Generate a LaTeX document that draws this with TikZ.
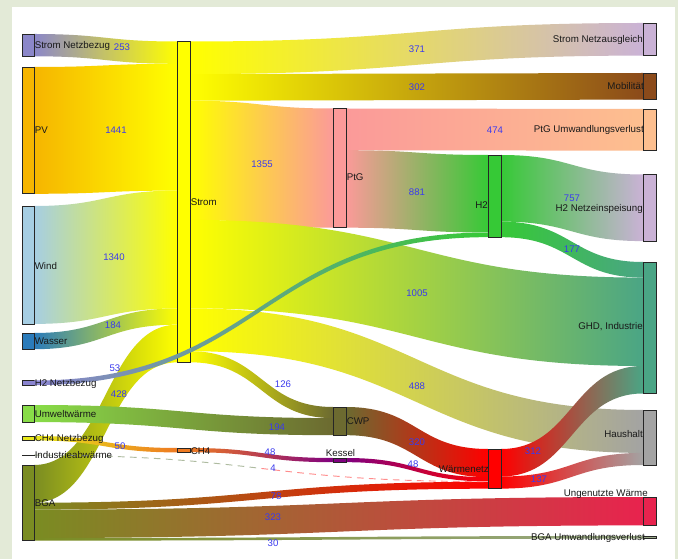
\documentclass[tikz,border=0pt]{standalone}
\usepackage{fontspec}
\setmainfont{Liberation Sans}
\usetikzlibrary{calc}
\definecolor{bgC}{HTML}{E3EAD7}
\definecolor{snbC}{HTML}{8B87C9}
\definecolor{pvC}{HTML}{F6B500}
\definecolor{windC}{HTML}{A6CEE3}
\definecolor{wasserC}{HTML}{2B7BBA}
\definecolor{h2nbC}{HTML}{8A84D0}
\definecolor{umwC}{HTML}{88DC48}
\definecolor{ch4nbC}{HTML}{E8E81A}
\definecolor{indabC}{HTML}{000000}
\definecolor{bgaC}{HTML}{7A8C22}
\definecolor{stromC}{HTML}{FFFF00}
\definecolor{ch4C}{HTML}{EE7A22}
\definecolor{ptgC}{HTML}{FB9A99}
\definecolor{cwpC}{HTML}{6C6A30}
\definecolor{kesselC}{HTML}{800080}
\definecolor{h2C}{HTML}{36C936}
\definecolor{wnC}{HTML}{FF0000}
\definecolor{snaC}{HTML}{CAB2D6}
\definecolor{mobC}{HTML}{8B4A1A}
\definecolor{ptgvC}{HTML}{FDBF8F}
\definecolor{h2neC}{HTML}{CAB2D6}
\definecolor{ghdC}{HTML}{4AA585}
\definecolor{hhC}{HTML}{A3A3A3}
\definecolor{ungC}{HTML}{E8234E}
\definecolor{bgavC}{HTML}{9AAA88}
\definecolor{valC}{HTML}{3A3AEE}
\definecolor{wnghdM}{HTML}{CC6A62}
\definecolor{wnhhM}{HTML}{E25A5A}
% flow: src, dst, offset at src, offset at dst, thickness, colour src, colour dst
\newcommand\flw[7]{%
  \shade[left color=#6,right color=#7] let \p1=($(#1.north east)+(0,#3)$),
    \p2=($(#2.north west)+(0,#4)$), \p3=($(\p1)+(0,#5)$), \p4=($(\p2)+(0,#5)$),
    \n1={0.5*(\x1+\x2)} in
    (\p1) .. controls (\n1,\y1) and (\n1,\y2) .. (\p2) -- (\p4)
    .. controls (\n1,\y4) and (\n1,\y3) .. (\p3) -- cycle;}
% same with a middle colour
\newcommand\flwm[8]{%
  \shade[left color=#6,middle color=#8,right color=#7] let \p1=($(#1.north east)+(0,#3)$),
    \p2=($(#2.north west)+(0,#4)$), \p3=($(\p1)+(0,#5)$), \p4=($(\p2)+(0,#5)$),
    \n1={0.5*(\x1+\x2)} in
    (\p1) .. controls (\n1,\y1) and (\n1,\y2) .. (\p2) -- (\p4)
    .. controls (\n1,\y4) and (\n1,\y3) .. (\p3) -- cycle;}
\begin{document}
\begin{tikzpicture}[x=0.75pt,y=-0.75pt,
  box/.style={draw=black!85, line width=0.55pt, inner sep=0pt, outer sep=0pt, anchor=north west, minimum width=9.75pt},
  lbl/.style={font=\fontsize{7.3}{8}\selectfont, inner sep=0pt, text=black!90},
  val/.style={font=\fontsize{7.2}{8}\selectfont, inner sep=0pt, text=valC}]
\useasboundingbox (0,0) rectangle (678,559);
\fill[bgC] (0,0) rectangle (678,559);
\fill[white] (12,7) rectangle (675,559);
% node boxes (placement first for names)
\path
 node[box, draw=none, minimum width=9pt, minimum height=16.72pt] (snb) at (22,34) {}
 node[box, draw=none, minimum width=9pt, minimum height=95.1pt] (pv) at (22,67) {}
 node[box, draw=none, minimum width=9pt, minimum height=88.43pt] (wind) at (22,206) {}
 node[box, draw=none, minimum width=9pt, minimum height=12.15pt] (wasser) at (22,333) {}
 node[box, draw=none, minimum width=9pt, minimum height=3.5pt] (h2nb) at (22,380.5) {}
 node[box, draw=none, minimum width=9pt, minimum height=12.8pt] (umw) at (22,405) {}
 node[box, draw=none, minimum width=9pt, minimum height=3.3pt] (ch4nb) at (22,436) {}
 node[box, draw=none, minimum width=9pt, minimum height=0.26pt] (indab) at (22,455) {}
 node[box, draw=none, minimum width=9pt, minimum height=56.7pt] (bga) at (22,465) {}
 node[box, draw=none, minimum height=240.6pt] (strom) at (177,41.5) {}
 node[box, draw=none, minimum height=3.3pt] (ch4) at (177,448) {}
 node[box, draw=none, minimum height=89.4pt] (ptg) at (333,108.5) {}
 node[box, draw=none, minimum height=21.15pt] (cwp) at (333,407) {}
 node[box, draw=none, minimum height=3.15pt] (kessel) at (333,458) {}
 node[box, draw=none, minimum height=61.65pt] (h2) at (488,155) {}
 node[box, draw=none, minimum height=29.7pt] (wn) at (488,449) {}
 node[box, draw=none, minimum height=24.45pt] (sna) at (643,23) {}
 node[box, draw=none, minimum height=19.95pt] (mob) at (643,73) {}
 node[box, draw=none, minimum height=31.3pt] (ptgv) at (643,109) {}
 node[box, draw=none, minimum height=49.95pt] (h2ne) at (643,174.5) {}
 node[box, draw=none, minimum height=98.6pt] (ghd) at (643,262) {}
 node[box, draw=none, minimum height=41.25pt] (hh) at (643,410) {}
 node[box, draw=none, minimum height=21.3pt] (ung) at (643,497) {}
 node[box, draw=none, minimum height=1.98pt] (bgav) at (643,536) {};
% flows
\flw{bga}{strom}{0}{283.2}{37.7}{bgaC}{stromC}
\flw{snb}{strom}{0}{0}{22.3}{snbC}{stromC}
\flw{pv}{strom}{0}{22.3}{126.8}{pvC}{stromC}
\flw{wind}{strom}{0}{149.1}{117.9}{windC}{stromC}
\flw{wasser}{strom}{0}{267.0}{16.2}{wasserC}{stromC}
\flw{strom}{sna}{0}{0}{32.6}{stromC}{snaC}
\flw{strom}{mob}{32.6}{0}{26.6}{stromC}{mobC}
\flw{strom}{ptg}{59.2}{0}{119.2}{stromC}{ptgC}
\flw{strom}{ghd}{178.4}{15.6}{88.4}{stromC}{ghdC}
\flw{strom}{hh}{266.8}{0}{42.9}{stromC}{hhC}
\flw{strom}{cwp}{309.7}{0}{11.1}{stromC}{cwpC}
\flw{ptg}{ptgv}{0}{0}{41.7}{ptgC}{ptgvC}
\flw{ptg}{h2}{41.7}{0}{77.5}{ptgC}{h2C}
\flw{h2}{h2ne}{0}{0}{66.6}{h2C}{h2neC}
\flw{h2}{ghd}{66.6}{0}{15.6}{h2C}{ghdC}
\flw{umw}{cwp}{0}{11.1}{17.1}{umwC}{cwpC}
\flw{ch4nb}{ch4}{0}{0}{4.4}{ch4nbC}{ch4C}
\flw{ch4}{kessel}{0}{0}{4.2}{ch4C}{kesselC}
\flw{bga}{ung}{44.6}{0}{28.4}{bgaC}{ungC}
\flw{bga}{bgav}{73.0}{0}{2.64}{bgaC}{bgavC}
\flw{bga}{wn}{37.7}{32.8}{6.9}{bgaC}{wnC}
\flw{cwp}{wn}{0}{0}{28.2}{cwpC}{wnC}
\flw{kessel}{wn}{0}{28.2}{4.2}{kesselC}{wnC}
\flwm{wn}{ghd}{0}{104.0}{27.5}{wnC}{ghdC}{wnghdM}
\flwm{wn}{hh}{27.5}{42.9}{12.1}{wnC}{hhC}{wnhhM}
% dashed Industrieabwaerme -> Waermenetz
\coordinate (indEnd) at ($(wn.north west)+(0,32.6)$);
\begin{scope}
\clip (0,0) rectangle (261,559);
\draw[bgavC!80, line width=0.7pt, dash pattern=on 5pt off 4pt] (indab.east) .. controls (261,455.2) and (261,481.6) .. (indEnd);
\end{scope}
\begin{scope}
\clip (261,0) rectangle (678,559);
\draw[wnC!45, line width=0.7pt, dash pattern=on 5pt off 4pt] (indab.east) .. controls (261,455.2) and (261,481.6) .. (indEnd);
\end{scope}
% visible boxes
\foreach \n/\c in {snb/snbC,pv/pvC,wind/windC,wasser/wasserC,h2nb/h2nbC,umw/umwC,ch4nb/ch4nbC,indab/indabC,bga/bgaC,strom/stromC,ch4/ch4C,ptg/ptgC,cwp/cwpC,kessel/kesselC,h2/h2C,wn/wnC,sna/snaC,mob/mobC,ptgv/ptgvC,h2ne/h2neC,ghd/ghdC,hh/hhC,ung/ungC,bgav/bgavC}
  \draw[fill=\c, draw=black!85, line width=0.55pt] (\n.north west) rectangle (\n.south east);
% H2 Netzbezug flow on top
\flw{h2nb}{h2}{0}{77.5}{4.66}{h2nbC}{h2C}
% node labels
\node[lbl, anchor=west] (tsnb) at (34.5,46) {Strom Netzbezug};
\node[lbl, anchor=west] (tpv) at (34.5,130) {PV};
\node[lbl, anchor=west] (twind) at (34.5,266) {Wind};
\node[lbl, anchor=west] (twasser) at (34.5,341.5) {Wasser};
\node[lbl, anchor=west] (th2nb) at (34.5,383.5) {H2 Netzbezug};
\node[lbl, anchor=west] (tumw) at (34.5,414) {Umweltwärme};
\node[lbl, anchor=west] (tch4nb) at (34.5,438.5) {CH4 Netzbezug};
\node[lbl, anchor=west] (tindab) at (34.5,455) {Industrieabwärme};
\node[lbl, anchor=west] (tbga) at (34.5,503) {BGA};
\node[lbl, anchor=west] (tstrom) at (190.5,202) {Strom};
\node[lbl, anchor=west] (tch4) at (190.5,451) {CH4};
\node[lbl, anchor=west] (tptg) at (346.5,177) {PtG};
\node[lbl, anchor=west] (tcwp) at (346.5,421) {CWP};
\node[lbl] (tkessel) at (340.5,453) {Kessel};
\node[lbl, anchor=east] (th2) at (488,205) {H2};
\node[lbl, anchor=east] (twn) at (489,469) {Wärmenetz};
\node[lbl, anchor=east] (tsna) at (643,40) {Strom Netzausgleich};
\node[lbl, anchor=east] (tmob) at (644,86) {Mobilität};
\node[lbl, anchor=east] (tptgv) at (644,130) {PtG Umwandlungsverlust};
\node[lbl, anchor=east] (th2ne) at (643,208.5) {H2 Netzeinspeisung};
\node[lbl, anchor=east] (tghd) at (643,327) {GHD, Industrie};
\node[lbl, anchor=east] (thh) at (643,434) {Haushalt};
\node[lbl, anchor=east] (tung) at (648,494.5) {Ungenutzte Wärme};
\node[lbl, anchor=east] (tbgav) at (645,538) {BGA Umwandlungsverlust};
% flow values
\node[val] (v253) at (122,47.5) {253};
\node[val] (v371) at (417,49) {371};
\node[val] (v302) at (417,87) {302};
\node[val] (v1441) at (116,130) {1441};
\node[val] (v474) at (495,130) {474};
\node[val] (v1355) at (262,164) {1355};
\node[val] (v881) at (417,192) {881};
\node[val] (v757) at (572,198) {757};
\node[val] (v177) at (572,249) {177};
\node[val] (v1340) at (114,257) {1340};
\node[val] (v1005) at (417,293) {1005};
\node[val] (v184) at (113,325) {184};
\node[val] (v53) at (115,368) {53};
\node[val] (v428) at (119,394) {428};
\node[val] (v126) at (283,384) {126};
\node[val] (v488) at (417,386) {488};
\node[val] (v194) at (277,427) {194};
\node[val] (v320) at (417,442) {320};
\node[val] (v312) at (533,451) {312};
\node[val] (v50) at (120,446) {50};
\node[val] (v48a) at (270,452) {48};
\node[val] (v48b) at (413,464) {48};
\node[val] (v4) at (273,468) {4};
\node[val] (v137) at (539,479) {137};
\node[val] (v78) at (276,496) {78};
\node[val] (v323) at (273,517) {323};
\node[val] (v30) at (273,543) {30};
\end{tikzpicture}
\end{document}
